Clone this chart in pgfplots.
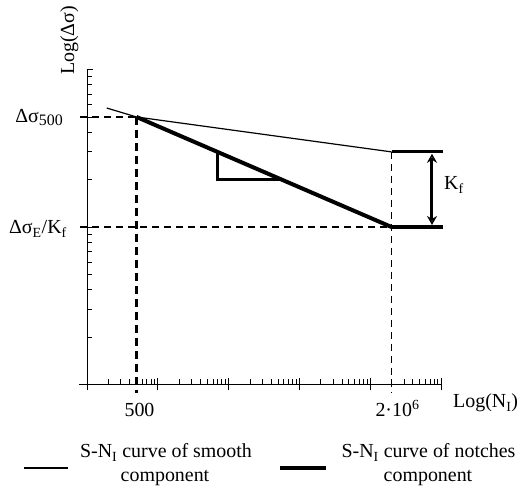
\documentclass[border=0pt]{standalone}
\usepackage{fontspec}
\setmainfont{Liberation Serif}
\usepackage{pgfplots}
\pgfplotsset{compat=1.18}
\usetikzlibrary{arrows.meta}
\begin{document}
\fontsize{20}{24}\selectfont
\begin{tikzpicture}[x=1bp,y=1bp]
\useasboundingbox (0,0) rectangle (518,493);
\begin{axis}[
  at={(87bp,108.6bp)}, anchor=south west,
  scale only axis, width=354bp, height=314.8bp,
  xmode=log, ymode=log,
  xmin=100, xmax=1e7, ymin=1, ymax=100,
  axis x line*=bottom, axis y line*=left,
  axis line style={line width=1bp, -},
  clip=false,
  xtick={100,1000,10000,100000,1000000,10000000}, xticklabels={},
  ytick={1,10,100}, yticklabels={},
  minor xtick={200,300,400,500,600,700,800,900,2000,3000,4000,5000,6000,7000,8000,9000,20000,30000,40000,50000,60000,70000,80000,90000,200000,300000,400000,500000,600000,700000,800000,900000,2000000,3000000,4000000,5000000,6000000,7000000,8000000,9000000},
  minor ytick={2,3,4,5,6,7,8,9,20,30,40,50,60,70,80,90},
  tick align=inside,
  major tick length=6bp, minor tick length=5bp,
  tick style={line width=0.8bp, black},
  extra x ticks={100,1000,10000,100000,1000000,10000000},
  extra x tick labels={},
  extra x tick style={tick align=center, major tick length=12bp},
]
% smooth component S-N curve
\addplot[black, line width=1.2bp] coordinates {(190,57) (500,50) (2000000,30)};
% notched component S-N curve
\addplot[black, line width=4bp] coordinates {(500,50) (2000000,10)};
\addplot[black, line width=3bp] coordinates {(2000000,30) (10700000,30)};
\addplot[black, line width=4.5bp] coordinates {(2000000,10) (10700000,10)};
% slope triangle
\addplot[black, line width=2.5bp] coordinates {(6952,30) (6952,20) (56200,20)};
% Kf arrow
\addplot[black, line width=3bp, {Stealth[length=9bp,width=10bp,open]}-{Stealth[length=9bp,width=10bp,open]}] coordinates {(7460000,29.2) (7460000,10.3)};
% dashed guides
\addplot[black, line width=2bp, dash pattern=on 7bp off 5bp] coordinates {(79.6,50) (500,50)};
\addplot[black, line width=3bp, dash pattern=on 8bp off 5bp] coordinates {(500,50) (500,0.88)};
\addplot[black, line width=1.5bp, dash pattern=on 7bp off 5bp] coordinates {(79.6,10) (2000000,10)};
\addplot[black, line width=1.5bp, dash pattern=on 7bp off 5bp] coordinates {(2000000,30) (2000000,0.88)};
% labels
\node[inner sep=0pt, anchor=base east, xshift=-24bp, yshift=-6bp] at (axis cs:100,50) {Δσ\raisebox{-2.5bp}{\fontsize{16}{16}\selectfont 500}};
\node[inner sep=0pt, anchor=base east, xshift=-20bp, yshift=-7bp] at (axis cs:100,10) {Δσ\textsubscript{E}/K\textsubscript{f}};
\node[inner sep=0pt, anchor=base, xshift=3bp, yshift=-32.6bp] at (axis cs:500,1) {500};
\node[inner sep=0pt, anchor=base, xshift=6bp, yshift=-32.6bp] at (axis cs:2000000,1) {2·10\textsuperscript{6}};
\node[inner sep=0pt, anchor=base west, xshift=12bp, yshift=-23.6bp] at (axis cs:10000000,1) {Log(N\textsubscript{I})};
\end{axis}
\draw[line width=1bp] (79,108.6) -- (87,108.6);
\node[inner sep=0pt, rotate=90, anchor=base west] at (74,418) {Log(Δσ)};
\node[inner sep=0pt, anchor=base west] at (444,303) {K\textsubscript{f}};
% legend
\draw[line width=1.3bp] (24,25) -- (68,25);
\draw[line width=4bp] (280,25) -- (326,25);
\node[inner sep=0pt, anchor=base] at (166,35) {S-N\textsubscript{I} curve of smooth};
\node[inner sep=0pt, anchor=base] at (165,11) {component};
\node[inner sep=0pt, anchor=base] at (428.5,35) {S-N\textsubscript{I} curve of notches};
\node[inner sep=0pt, anchor=base] at (428,11) {component};
\end{tikzpicture}
\end{document}
